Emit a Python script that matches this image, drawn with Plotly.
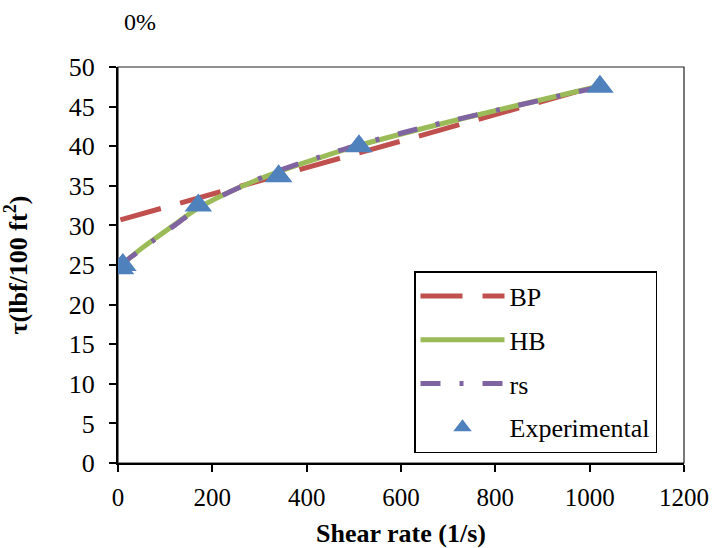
import plotly.graph_objects as go

# Data
exp_x = [5.11, 10.22, 170.3, 340.6, 510.9, 1021.8]
exp_y = [24.6, 25.0, 32.5, 36.2, 40.0, 47.5]

bp_x = [5.11, 1021.8]
bp_y = [30.7, 47.7]

curve_x = [5.11, 10.22, 25, 50, 75, 120, 170.3, 250, 340.6, 425, 510.9, 650, 800, 1021.8]
hb_y = [24.9, 25.1, 25.9, 27.1, 28.2, 30.1, 32.2, 34.6, 36.8, 38.5, 40.1, 42.3, 44.5, 47.6]
rs_y = [25.0, 25.2, 25.9, 27.0, 28.1, 30.0, 32.2, 34.6, 36.9, 38.6, 40.2, 42.4, 44.5, 47.5]

x_ticks = [0, 200, 400, 600, 800, 1000, 1200]
y_ticks = [0, 5, 10, 15, 20, 25, 30, 35, 40, 45, 50]

FONT = "Times New Roman, Liberation Serif, DejaVu Serif, serif"
FS = 26

fig = go.Figure()
fig.add_trace(go.Scatter(x=bp_x, y=bp_y, mode="lines", name="BP", legendgroup="a",
                         line=dict(color="#C0504D", width=5, dash="42px,20px")))
fig.add_trace(go.Scatter(x=curve_x, y=hb_y, mode="lines", name="HB", legendgroup="b",
                         line=dict(color="#9BBB59", width=5, shape="spline", smoothing=0.8)))
fig.add_trace(go.Scatter(x=curve_x, y=rs_y, mode="lines", name="rs", legendgroup="c",
                         line=dict(color="#8064A2", width=5, shape="spline", smoothing=0.8,
                                   dash="20px,19px,4px,19px")))
fig.add_trace(go.Scatter(x=exp_x, y=exp_y, mode="markers", name="Experimental", legendgroup="d",
                         marker=dict(symbol="triangle-up", size=24, color="#4F81BD",
                                     line=dict(width=0))))

W, H = 713, 548
fig.update_layout(
    width=W, height=H,
    margin=dict(l=118, r=29, t=67, b=85, pad=0),
    paper_bgcolor="white", plot_bgcolor="white",
    font=dict(family=FONT, size=FS, color="black"),
    title=dict(text="0%", x=140 / W, xanchor="center", y=1 - 22 / H, yanchor="middle",
               font=dict(family=FONT, size=24)),
    legend=dict(x=(414 - 118) / 566, y=(463 - 271) / 396, xanchor="left", yanchor="top",
                bordercolor="black", borderwidth=1.5, bgcolor="white",
                font=dict(family=FONT, size=FS), tracegroupgap=7, itemwidth=84),
    shapes=[dict(type="rect", xref="paper", yref="paper", x0=0, y0=0, x1=1, y1=1,
                 line=dict(color="#222", width=1.2), layer="below")],
)
fig.update_xaxes(range=[0, 1200], tickvals=x_ticks, showgrid=False, zeroline=False,
                 showline=True, linecolor="black", linewidth=2, automargin=False,
                 ticks="outside", ticklen=7, tickwidth=2, tickcolor="black",
                 tickfont=dict(family=FONT, size=25), ticklabelstandoff=4,
                 title=dict(text="<b>Shear rate (1/s)</b>", font=dict(family=FONT, size=FS), standoff=20))
fig.update_yaxes(range=[0, 50], tickvals=y_ticks, showgrid=False, zeroline=False,
                 showline=True, linecolor="black", linewidth=2, automargin=False,
                 ticks="outside", ticklen=7, tickwidth=2, tickcolor="black",
                 tickfont=dict(family=FONT, size=FS), ticklabelstandoff=9,
                 title=dict(text="<b>τ(lbf/100 ft<sup>2</sup>)</b>", font=dict(family=FONT, size=FS), standoff=40))

fig.write_html("out.html", config={"displayModeBar": False},
               post_script="document.body.style.margin='0';document.body.style.overflow='hidden';")
